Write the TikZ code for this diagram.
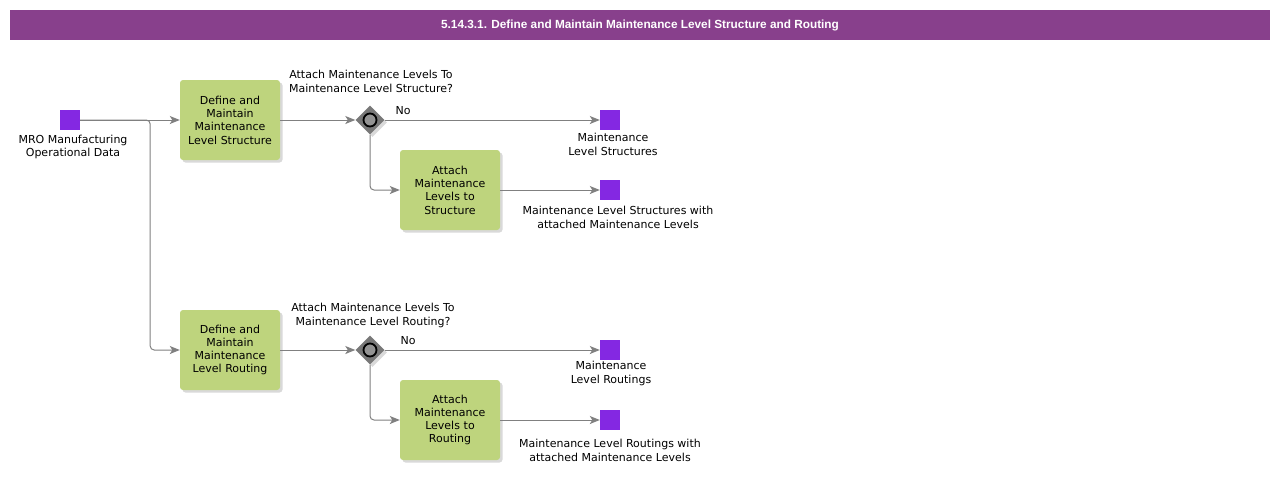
\documentclass[tikz,border=0pt]{standalone}
\usepackage{fontspec}
\setmainfont{DejaVu Sans}
\newfontfamily\titlefont{Liberation Sans}
\usetikzlibrary{shapes.geometric,shadows,arrows.meta}
\definecolor{titlepurple}{RGB}{136,64,140}
\definecolor{taskgreen}{RGB}{190,212,125}
\definecolor{datapurple}{RGB}{132,40,226}
\definecolor{linegray}{RGB}{128,128,128}
\definecolor{gatewaygray}{RGB}{120,120,120}

\begin{document}
\begin{tikzpicture}[x=1pt, y=-1pt,
    shade/.style={drop shadow={shadow xshift=2.5pt, shadow yshift=-2.5pt, opacity=0.15, fill=black}},
    task/.style={rectangle, rounded corners=3pt, fill=taskgreen, shade, minimum width=100pt, minimum height=80pt, text width=96pt, align=center, inner sep=0pt, font=\fontsize{11}{13.3}\selectfont},
    data/.style={rectangle, fill=datapurple, minimum size=20pt, inner sep=0pt},
    gateway/.style={diamond, fill=gatewaygray, shade, minimum size=29pt, inner sep=0pt},
    gatemark/.style={circle, draw=black, line width=1.8pt, fill=gray!85, minimum size=13pt, inner sep=0pt},
    lbl/.style={align=center, inner sep=0pt, font=\fontsize{11}{13.3}\selectfont},
    flow/.style={draw=linegray, line width=1pt, -{Stealth[length=10pt, width=8pt, inset=2.5pt]}}]
   \useasboundingbox (0,0) rectangle (1280,493);
   % title
   \node[fill=titlepurple, minimum width=1260pt, minimum height=30pt, inner sep=0pt,
         text=white, font=\titlefont\bfseries\fontsize{11.8}{14}\selectfont] (title) at (640,25)
         {5.14.3.1. Define and Maintain Maintenance Level Structure and Routing};
   % input
   \node[data] (mro) at (70,120) {};
   \node[lbl] (mrolbl) at (73,147) {MRO Manufacturing\\Operational Data};
   % structure branch
   \node[task] (defstruct) at (230,120) {Define and\\Maintain\\Maintenance\\Level Structure};
   \node[gateway] (gwstruct) at (370,120) {};
   \node[gatemark] (gwstructmark) at (gwstruct) {};
   \node[lbl] (gwstructlbl) at (371,81.5) {Attach Maintenance Levels To\\Maintenance Level Structure?};
   \node[lbl] (nostruct) at (403,111) {No};
   \node[data] (levstruct) at (610,120) {};
   \node[lbl] (levstructlbl) at (613,144.5) {Maintenance\\Level Structures};
   \node[task] (attstruct) at (450,190) {Attach\\Maintenance\\Levels to\\Structure};
   \node[data] (attlevstruct) at (610,190) {};
   \node[lbl] (attlevstructlbl) at (618,217.5) {Maintenance Level Structures with\\attached Maintenance Levels};
   % routing branch
   \node[task] (defrout) at (230,350) {Define and\\Maintain\\Maintenance\\Level Routing};
   \node[gateway] (gwrout) at (370,350) {};
   \node[gatemark] (gwroutmark) at (gwrout) {};
   \node[lbl] (gwroutlbl) at (373,315.5) {Attach Maintenance Levels To\\Maintenance Level Routing?};
   \node[lbl] (norout) at (408,341) {No};
   \node[data] (levrout) at (610,350) {};
   \node[lbl] (levroutlbl) at (611,373.5) {Maintenance\\Level Routings};
   \node[task] (attrout) at (450,420) {Attach\\Maintenance\\Levels to\\Routing};
   \node[data] (attlevrout) at (610,420) {};
   \node[lbl] (attlevroutlbl) at (610,450.5) {Maintenance Level Routings with\\attached Maintenance Levels};
   % flows
   \draw[flow] (mro) -- (defstruct);
   \draw[flow, rounded corners=4pt] (mro.east) -- ++(70,0) |- (defrout.west);
   \draw[flow] (defstruct) -- (gwstruct);
   \draw[flow] (gwstruct) -- (levstruct);
   \draw[flow, rounded corners=4pt] (gwstruct.south) |- (attstruct.west);
   \draw[flow] (attstruct) -- (attlevstruct);
   \draw[flow] (defrout) -- (gwrout);
   \draw[flow] (gwrout) -- (levrout);
   \draw[flow, rounded corners=4pt] (gwrout.south) |- (attrout.west);
   \draw[flow] (attrout) -- (attlevrout);
\end{tikzpicture}
\end{document}
